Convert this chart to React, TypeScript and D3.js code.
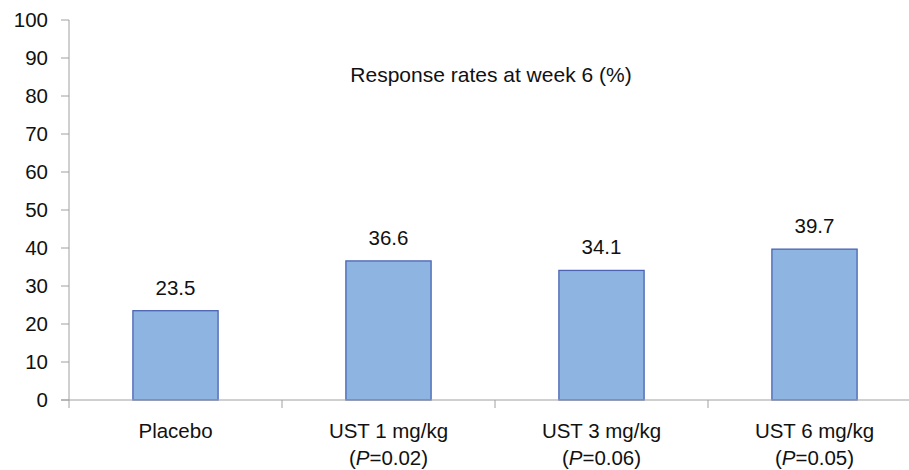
import React from "react";
import * as d3 from "d3";

const categories = ["Placebo", "UST 1 mg/kg", "UST 3 mg/kg", "UST 6 mg/kg"];
const pValues = ["", "0.02", "0.06", "0.05"];
const rates = [23.5, 36.6, 34.1, 39.7];
const yTicks = [0, 10, 20, 30, 40, 50, 60, 70, 80, 90, 100];

const W = 909;
const H = 470;
const font = "'Liberation Sans', Arial, sans-serif";
const fs = 20.5;

export default function App() {
	const x = d3
		.scaleBand()
		.domain(categories)
		.range([69, 921])
		.paddingInner(0.6)
		.paddingOuter(0.3);
	const step = x.step();
	const left = 69;

	const y = d3.scaleLinear().domain([0, 100]).range([400, 20]);

	return (
		<svg
			width={W}
			height={H}
			style={{ position: "absolute", left: 0, top: 0 }}
			fontFamily={font}
		>
			<rect width={W} height={H} fill="#fff" />
			{/* y axis */}
			<line x1={left} x2={left} y1={y(100)} y2={y(0)} stroke="#a0a0a0" strokeWidth={1} />
			{yTicks.map((t) => (
				<g key={t}>
					<line x1={61} x2={left} y1={y(t)} y2={y(t)} stroke="#a0a0a0" />
					<text
						x={48}
						y={y(t)}
						dy="0.36em"
						textAnchor="end"
						fontSize={fs}
						fill="#111"
					>
						{t}
					</text>
				</g>
			))}
			{/* bars */}
			{categories.map((c, i) => (
				<g key={c}>
					<rect
						x={x(c)}
						y={y(rates[i])}
						width={x.bandwidth()}
						height={y(0) - y(rates[i])}
						fill="#8eb4e1"
						stroke="#4a63b3"
						strokeWidth={1.3}
					/>
					<text
						x={(x(c) as number) + x.bandwidth() / 2}
						y={y(rates[i]) - 16}
						textAnchor="middle"
						fontSize={fs}
						fill="#111"
					>
						{rates[i].toFixed(1)}
					</text>
					<text
						x={(x(c) as number) + x.bandwidth() / 2}
						y={438}
						textAnchor="middle"
						fontSize={fs}
						fill="#111"
					>
						{c}
					</text>
					{pValues[i] && (
						<text
							x={(x(c) as number) + x.bandwidth() / 2}
							y={465}
							textAnchor="middle"
							fontSize={fs}
							fill="#111"
						>
							(<tspan fontStyle="italic">P</tspan>={pValues[i]})
						</text>
					)}
				</g>
			))}
			{/* x axis */}
			<line x1={61} x2={W} y1={y(0)} y2={y(0)} stroke="#a0a0a0" />
			{categories.map((c, i) => (
				<line
					key={c}
					x1={left + i * step}
					x2={left + i * step}
					y1={y(0)}
					y2={y(0) + 8}
					stroke="#a0a0a0"
				/>
			))}
			<text x={491} y={82} textAnchor="middle" fontSize={21} fill="#111">
				Response rates at week 6 (%)
			</text>
		</svg>
	);
}
